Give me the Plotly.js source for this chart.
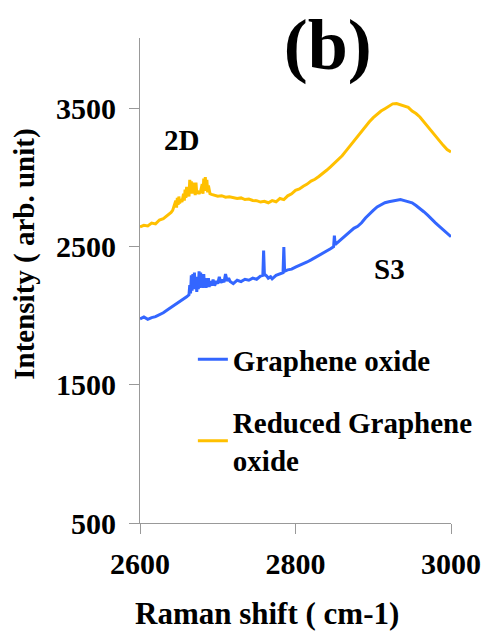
<!DOCTYPE html>
<html>
<head>
<meta charset="utf-8">
<script src="https://cdn.plot.ly/plotly-3.0.1.min.js"></script>
<style>
  html, body { margin: 0; padding: 0; background: #ffffff; }
  #chart { width: 487px; height: 631px; }
</style>
</head>
<body>
<div id="chart"></div>
<script>
// Raman shift (cm-1) and intensity for Reduced Graphene oxide (yellow)
const rgoShift = [2600,2605,2610,2615,2620,2625,2630,2635,2640,2642,2644,2646,2647,2648,2649,2650,2651,2652,2654,2656,2657,2658,2659,2660,2661,2662,2663,2664,2665,2666,2667,2668,2669,2670,2671,2672,2673,2674,2676,2678,2680,2681,2682,2683,2684,2685,2686,2687,2688,2690,2692,2695,2700,2705,2710,2715,2720,2725,2730,2735,2740,2745,2750,2755,2760,2765,2770,2775,2780,2785,2790,2795,2800,2805,2810,2815,2820,2825,2830,2835,2840,2845,2850,2855,2860,2865,2870,2875,2880,2885,2890,2895,2900,2905,2910,2915,2920,2925,2930,2935,2940,2945,2950,2955,2960,2965,2970,2975,2980,2985,2990,2995,3000];
const rgoIntensity = [2640,2652,2648,2668,2662,2690,2700,2722,2745,2760,2790,2830,2780,2850,2800,2860,2810,2840,2820,2880,2830,2910,2850,2930,2870,2920,2860,2980,2900,2970,2880,2960,2890,2940,2870,2960,2880,2900,2880,2900,2950,2880,2990,2900,3000,2910,2980,2890,2940,2880,2875,2870,2862,2866,2855,2858,2850,2846,2850,2838,2842,2832,2830,2820,2826,2815,2830,2822,2846,2838,2865,2880,2905,2915,2935,2950,2972,2985,3005,3025,3050,3075,3100,3128,3155,3190,3225,3260,3300,3330,3365,3400,3430,3455,3478,3495,3515,3530,3532,3522,3515,3505,3478,3460,3435,3400,3370,3335,3300,3262,3230,3200,3182];

// Raman shift (cm-1) and intensity for Graphene oxide (blue)
const goShift = [2600,2605,2610,2615,2620,2625,2630,2635,2640,2645,2650,2655,2660,2663,2664,2665,2666,2667,2668,2669,2670,2671,2672,2673,2674,2675,2676,2677,2678,2679,2680,2681,2682,2683,2684,2685,2686,2687,2688,2689,2690,2692,2694,2696,2698,2700,2702,2704,2706,2708,2710,2712,2714,2716,2720,2725,2730,2735,2740,2745,2750,2755,2758,2759,2760,2763,2765,2768,2770,2775,2780,2784,2785,2786,2790,2795,2800,2805,2810,2815,2820,2825,2830,2835,2840,2845,2849,2850,2851,2855,2860,2865,2870,2875,2880,2885,2890,2895,2900,2905,2910,2915,2920,2925,2930,2935,2940,2945,2950,2955,2960,2965,2970,2975,2980,2985,2990,2995,3000];
const goIntensity = [1975,1990,1972,1985,1992,2005,2020,2040,2058,2075,2095,2115,2135,2150,2220,2160,2290,2180,2300,2200,2310,2190,2280,2170,2240,2190,2320,2200,2310,2210,2290,2200,2300,2210,2270,2200,2260,2210,2270,2205,2250,2215,2260,2215,2250,2230,2280,2235,2260,2240,2300,2250,2270,2245,2230,2255,2245,2262,2255,2270,2262,2285,2290,2470,2300,2285,2270,2280,2265,2290,2300,2310,2495,2320,2330,2335,2350,2362,2372,2387,2402,2417,2432,2447,2467,2482,2497,2577,2512,2532,2557,2582,2607,2630,2645,2670,2705,2735,2760,2785,2800,2815,2822,2828,2832,2838,2830,2825,2815,2795,2775,2750,2725,2695,2670,2645,2620,2592,2570];

const seriesNames = ["Graphene oxide", "Reduced Graphene<br>oxide"];
const seriesColors = ["#3366ff", "#ffc000"];
const xTicks = [2600, 2800, 3000];
const yTicks = [500, 1500, 2500, 3500];
const peakLabels = ["2D", "S3"];
const peakLabelX = [2653, 2921];
const peakLabelY = [3270, 2336];
const xTitle = "Raman shift ( cm-1)";
const yTitle = "Intensity ( arb. unit)";
const panelTitle = "(b)";

const serif = "Liberation Serif, Times New Roman, serif";
const bold = s => "<b>" + String(s).split("<br>").join("</b><br><b>") + "</b>";

const traces = [
  { x: goShift, y: goIntensity, name: bold(seriesNames[0]), type: "scatter", mode: "lines",
    line: { color: seriesColors[0], width: 3 }, legendgroup: "a" },
  { x: rgoShift, y: rgoIntensity, name: bold(seriesNames[1]), type: "scatter", mode: "lines",
    line: { color: seriesColors[1], width: 3 }, legendgroup: "b" }
];

const annotations = peakLabels.map((t, i) => ({
  text: bold(t), x: peakLabelX[i], y: peakLabelY[i], xref: "x", yref: "y",
  showarrow: false, font: { family: serif, size: 29, color: "#000000" }
}));
annotations.push({
  text: bold(xTitle), xref: "paper", yref: "paper", x: 0.408, y: -0.186,
  xanchor: "center", yanchor: "middle", showarrow: false,
  font: { family: serif, size: 31, color: "#000000" }
});
annotations.push({
  text: bold(yTitle), xref: "paper", yref: "paper", x: -0.37, y: 0.555,
  xanchor: "center", yanchor: "middle", textangle: -90, showarrow: false,
  font: { family: serif, size: 29, color: "#000000" }
});

const layout = {
  width: 487, height: 631,
  margin: { l: 140, r: 36, t: 38, b: 108, autoexpand: false },
  paper_bgcolor: "#ffffff", plot_bgcolor: "#ffffff",
  font: { family: serif, color: "#000000", size: 29 },
  title: { text: bold(panelTitle), x: 0.673, xanchor: "center", y: 0.931, yanchor: "middle",
           font: { family: serif, size: 72, color: "#000000" } },
  xaxis: {
    range: [2600, 3000], tickvals: xTicks, ticktext: xTicks.map(bold),
    showgrid: false, zeroline: false, showline: true, linecolor: "#999999", linewidth: 1,
    ticks: "outside", ticklen: 10, tickcolor: "#999999",
    tickfont: { family: serif, size: 30, color: "#000000" },
    ticklabelstandoff: 4, automargin: false
  },
  yaxis: {
    range: [500, 4006], tickvals: yTicks, ticktext: yTicks.map(bold),
    showgrid: false, zeroline: false, showline: true, linecolor: "#999999", linewidth: 1,
    ticks: "outside", ticklen: 10, tickcolor: "#999999",
    tickfont: { family: serif, size: 30, color: "#000000" },
    ticklabelstandoff: 7, automargin: false
  },
  showlegend: true,
  legend: {
    x: 0.17, y: 0.39, xanchor: "left", yanchor: "top",
    bgcolor: "rgba(0,0,0,0)", borderwidth: 0,
    font: { family: serif, size: 29, color: "#000000" },
    traceorder: "grouped", tracegroupgap: 22, itemwidth: 30
  },
  annotations: annotations
};

Plotly.newPlot("chart", traces, layout, { displayModeBar: false, staticPlot: true });
</script>
</body>
</html>
